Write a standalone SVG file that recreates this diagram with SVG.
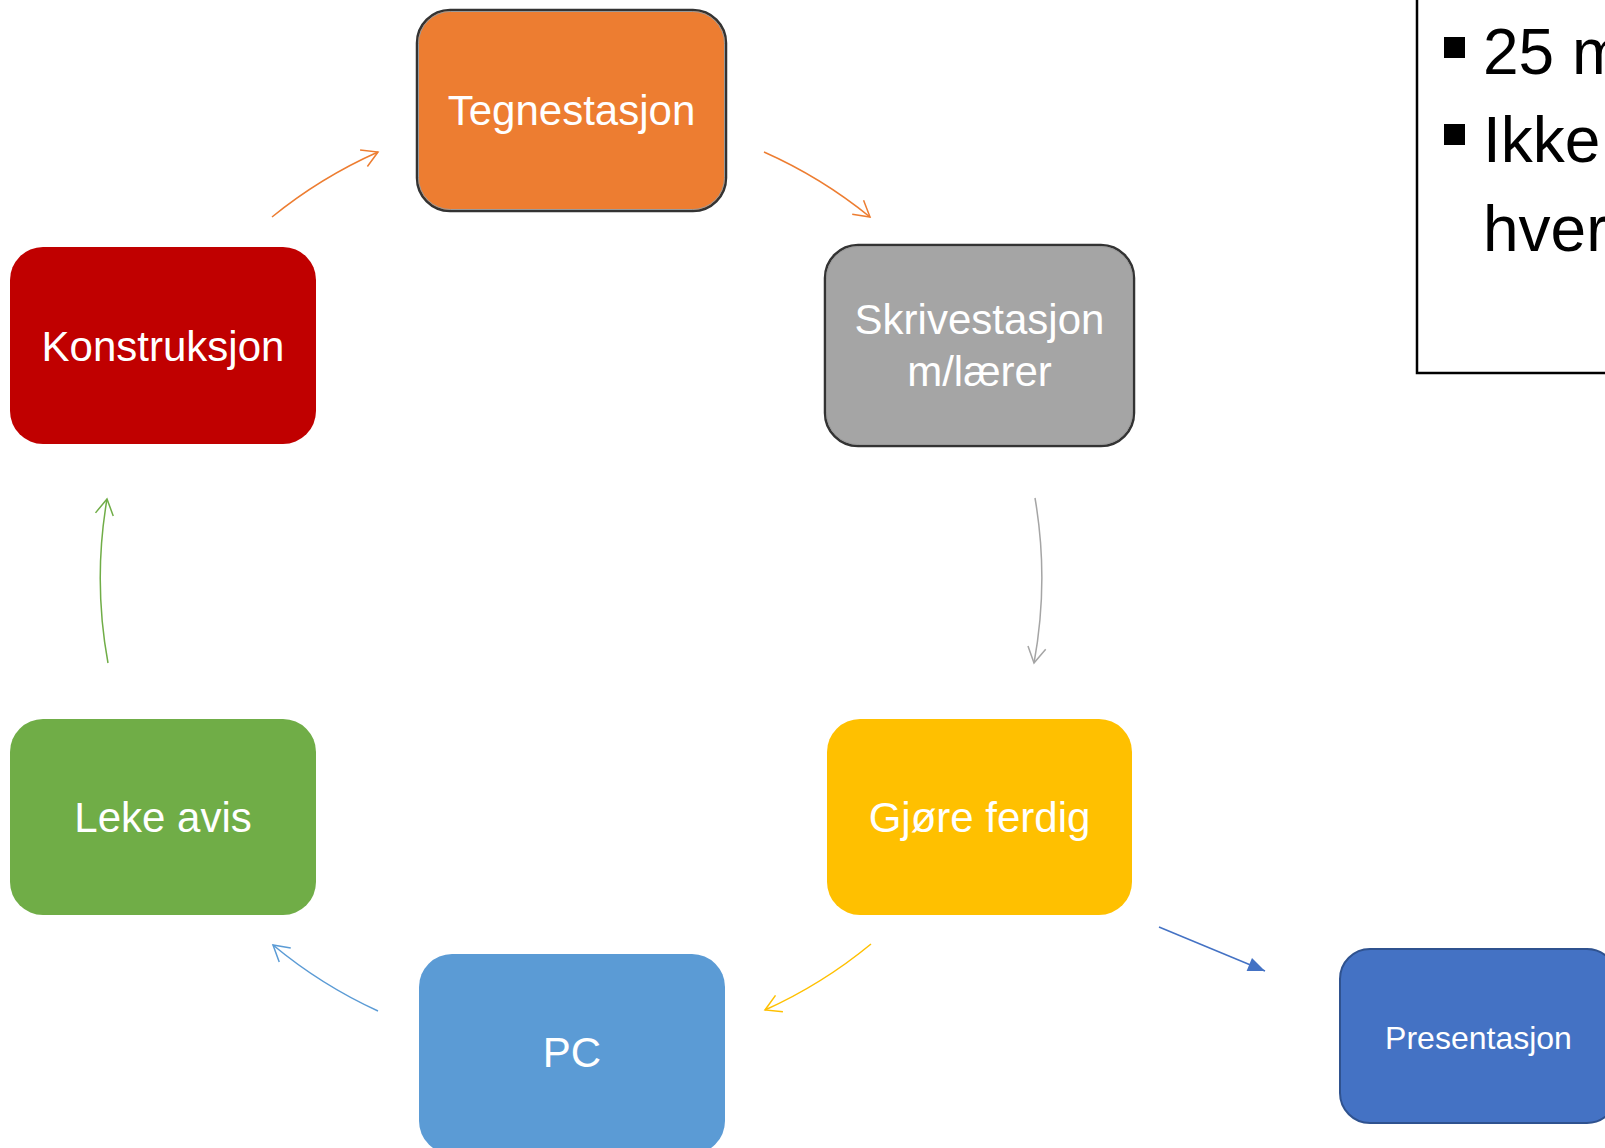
<svg xmlns="http://www.w3.org/2000/svg" width="1605" height="1148" viewBox="0 0 1605 1148">
<style>
.lbl{font-family:"Liberation Sans",Arial,sans-serif;font-size:42px;fill:#fff;text-anchor:middle}
.sm{font-size:32px}
.note{font-family:"Liberation Sans",Arial,sans-serif;font-size:64px;fill:#000}
.arc{fill:none;stroke-width:1.5}
.outl{fill:none;stroke:#333;stroke-width:2.5}
.outl2{fill:none;stroke:#999;stroke-width:1}
</style>
<defs>
<marker id="mo" markerUnits="userSpaceOnUse" markerWidth="40" markerHeight="40" viewBox="-20 -20 40 40" refX="0" refY="0" orient="auto"><path d="M-15.6,-9 L0,0 L-15.6,9" fill="none" stroke="#ED7D31" stroke-width="1.5"/></marker>
<marker id="mg" markerUnits="userSpaceOnUse" markerWidth="40" markerHeight="40" viewBox="-20 -20 40 40" refX="0" refY="0" orient="auto"><path d="M-15.6,-9 L0,0 L-15.6,9" fill="none" stroke="#A5A5A5" stroke-width="1.5"/></marker>
<marker id="my" markerUnits="userSpaceOnUse" markerWidth="40" markerHeight="40" viewBox="-20 -20 40 40" refX="0" refY="0" orient="auto"><path d="M-15.6,-9 L0,0 L-15.6,9" fill="none" stroke="#FFC000" stroke-width="1.5"/></marker>
<marker id="mb" markerUnits="userSpaceOnUse" markerWidth="40" markerHeight="40" viewBox="-20 -20 40 40" refX="0" refY="0" orient="auto"><path d="M-15.6,-9 L0,0 L-15.6,9" fill="none" stroke="#5B9BD5" stroke-width="1.5"/></marker>
<marker id="mgr" markerUnits="userSpaceOnUse" markerWidth="40" markerHeight="40" viewBox="-20 -20 40 40" refX="0" refY="0" orient="auto"><path d="M-15.6,-9 L0,0 L-15.6,9" fill="none" stroke="#70AD47" stroke-width="1.5"/></marker>
<marker id="mf" markerUnits="userSpaceOnUse" markerWidth="30" markerHeight="30" viewBox="-20 -10 30 20" refX="0" refY="0" orient="auto"><path d="M-17,-7 L0,0 L-17,7 Z" fill="#4472C4"/></marker>
</defs>

<g id="note">
<rect x="1417" y="-10" width="220" height="383" fill="#fff" stroke="#000" stroke-width="2.5"/>
<rect x="1444" y="37" width="21" height="21" fill="#000"/>
<text class="note" x="1483" y="74">25 min</text>
<rect x="1444" y="124" width="21" height="21" fill="#000"/>
<text class="note" x="1483" y="162">Ikke</text>
<text class="note" x="1483" y="251">hver</text>
</g>

<g id="connectors">
<path class="arc" stroke="#ED7D31" marker-end="url(#mo)" d="M272,217 A470,470 0 0 1 378,152"/>
<path class="arc" stroke="#ED7D31" marker-end="url(#mo)" d="M764,152 A470,470 0 0 1 870,217"/>
<path class="arc" stroke="#A5A5A5" marker-end="url(#mg)" d="M1035,498 A470,470 0 0 1 1034,663"/>
<path class="arc" stroke="#FFC000" marker-end="url(#my)" d="M871,944 A470,470 0 0 1 765,1010"/>
<path class="arc" stroke="#5B9BD5" marker-end="url(#mb)" d="M378,1011 A470,470 0 0 1 273,945"/>
<path class="arc" stroke="#70AD47" marker-end="url(#mgr)" d="M108,663 A470,470 0 0 1 107,499"/>
<path fill="none" stroke="#4472C4" stroke-width="1.5" marker-end="url(#mf)" d="M1159,927 L1265,971"/>
</g>

<g id="tegnestasjon">
<rect x="417" y="10" width="309" height="201" rx="33" fill="#ED7D31"/>
<rect class="outl" x="417" y="10" width="309" height="201" rx="33"/>
<rect class="outl2" x="418.5" y="11.5" width="306" height="198" rx="32"/>
<text class="lbl" x="571.5" y="125">Tegnestasjon</text>
</g>

<g id="skrivestasjon">
<rect x="825" y="245" width="309" height="201" rx="33" fill="#A5A5A5"/>
<rect class="outl" x="825" y="245" width="309" height="201" rx="33"/>
<rect class="outl2" x="826.5" y="246.5" width="306" height="198" rx="32"/>
<text class="lbl" x="979.5" y="334">Skrivestasjon</text>
<text class="lbl" x="979.5" y="386">m/lærer</text>
</g>

<g id="gjore-ferdig">
<rect x="827" y="719" width="305" height="196" rx="33" fill="#FFC000"/>
<text class="lbl" x="979.5" y="832">Gjøre ferdig</text>
</g>

<g id="pc">
<rect x="419" y="954" width="306" height="200" rx="33" fill="#5B9BD5"/>
<text class="lbl" x="572" y="1067">PC</text>
</g>

<g id="leke-avis">
<rect x="10" y="719" width="306" height="196" rx="33" fill="#70AD47"/>
<text class="lbl" x="163" y="832">Leke avis</text>
</g>

<g id="konstruksjon">
<rect x="10" y="247" width="306" height="197" rx="33" fill="#C00000"/>
<text class="lbl" x="163" y="361">Konstruksjon</text>
</g>

<g id="presentasjon">
<rect x="1340" y="949" width="277" height="174" rx="30" fill="#4472C4" stroke="#2F528F" stroke-width="2"/>
<text class="lbl sm" x="1478.5" y="1049">Presentasjon</text>
</g>
</svg>
